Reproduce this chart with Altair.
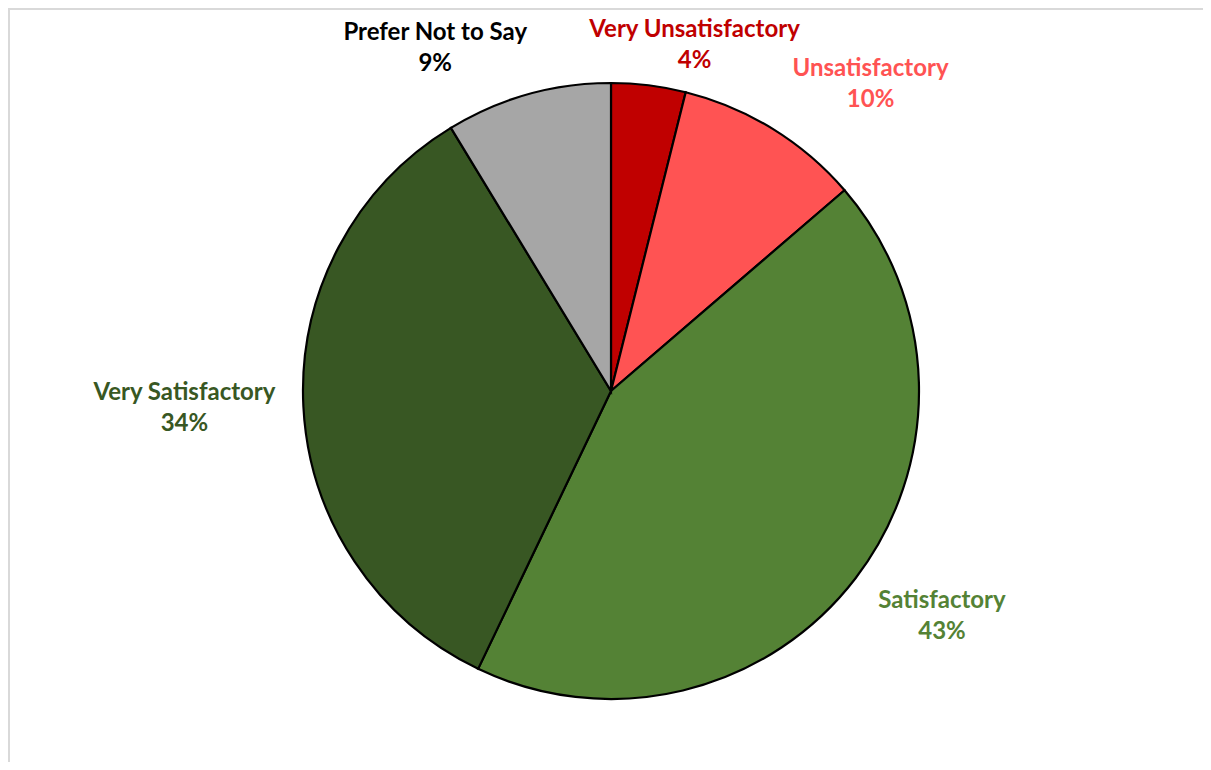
import altair as alt
import pandas as pd

categories = ["Very Unsatisfactory", "Unsatisfactory", "Satisfactory", "Very Satisfactory", "Prefer Not to Say"]
values = [3.9, 9.8, 43.4, 34.2, 8.7]
pct_labels = ["4%", "10%", "43%", "34%", "9%"]
slice_colors = ["#C00000", "#FF5353", "#548235", "#385723", "#A6A6A6"]
label_colors = ["#C00000", "#FF5353", "#548235", "#385723", "#000000"]
# per-label nudges (pixels) for the outside labels
label_nudges = [(42, -24), (81, -33), (61, 3), (-87, -15), (-84, -31)]

df = pd.DataFrame({"category": categories, "value": values, "pct": pct_labels})
df["order"] = range(len(df))
df["end"] = df["value"].cumsum()
df["start"] = df["end"] - df["value"]
df["mid"] = (df["start"] + df["end"]) / 2
df["label"] = df["category"] + "\n" + df["pct"]

W, H = 1195, 754
CX, CY = 603, 383
R = 308

theta_scale = alt.Scale(domain=[0, 100], range=[0, 6.283185307179586])
color_scale = alt.Scale(domain=categories, range=slice_colors)

base = alt.Chart(df)

pie = base.mark_arc(stroke="#000000", strokeWidth=2.2, radius=R).encode(
    theta=alt.Theta("start:Q", scale=theta_scale),
    theta2="end:Q",
    color=alt.Color("category:N", scale=color_scale, legend=None),
    x=alt.value(CX),
    y=alt.value(CY),
)

layers = [pie]
for cat, col, (ddx, ddy) in zip(categories, label_colors, label_nudges):
    t = base.transform_filter(alt.datum.category == cat).mark_text(
        font="Lato", fontWeight="bold", fontSize=24, lineBreak="\n", lineHeight=31,
        align="center", baseline="middle", radius=340, dx=ddx, dy=ddy, color=col,
    ).encode(
        theta=alt.Theta("mid:Q", scale=theta_scale),
        text="label:N",
        x=alt.value(CX),
        y=alt.value(CY),
    )
    layers.append(t)

border_left = alt.Chart(pd.DataFrame({"a": [0]})).mark_rule(color="#D9D9D9", strokeWidth=2).encode(
    x=alt.value(1), y=alt.value(0), y2=alt.value(H)
)
border_top = alt.Chart(pd.DataFrame({"a": [0]})).mark_rule(color="#D9D9D9", strokeWidth=2).encode(
    x=alt.value(0), x2=alt.value(W), y=alt.value(1)
)
layers += [border_left, border_top]

chart = alt.layer(*layers).properties(
    width=W, height=H, autosize=alt.AutoSizeParams(type="none"), padding=0, background="#FFFFFF"
).configure_view(stroke=None)

chart.save("out.html", embed_options={"renderer": "svg", "actions": False})
